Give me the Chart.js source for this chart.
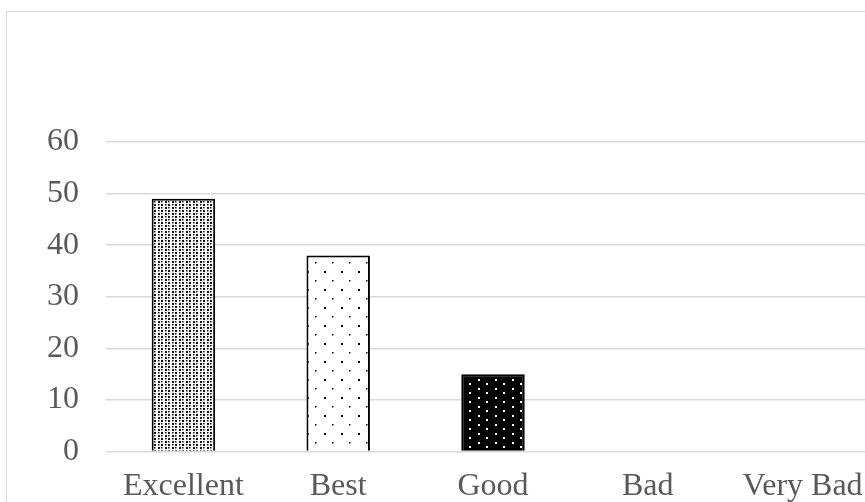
<!DOCTYPE html>
<html>
<head>
<meta charset="utf-8">
<script src="https://cdn.jsdelivr.net/npm/chart.js@4.4.1/dist/chart.umd.min.js"></script>
<style>
  html, body { margin: 0; padding: 0; background: #fff; overflow: hidden; }
  #frame {
    position: absolute; left: 6px; top: 11px;
    width: 1000px; height: 600px;
    border: 1px solid #d9d9d9;
  }
  #wrap { position: absolute; left: 0; top: 0; width: 890px; height: 514px; }
</style>
</head>
<body>
<div id="frame"></div>
<div id="wrap"><canvas id="ratingChart" width="890" height="514"></canvas></div>
<script>
const ratings = ['Excellent', 'Best', 'Good', 'Bad', 'Very Bad'];
const responses = [49, 38, 15, 0, 0];
const yTicks = [0, 10, 20, 30, 40, 50, 60];

// small tiles used as dotted fills for the bars
function dotPattern(w, h, bg, fg, dots) {
    const c = document.createElement('canvas');
    c.width = w;
    c.height = h;
    const g = c.getContext('2d');
    g.fillStyle = bg;
    g.fillRect(0, 0, w, h);
    g.fillStyle = fg;
    dots.forEach(d => g.fillRect(d[0], d[1], d[2], d[2]));
    return g.createPattern(c, 'repeat');
}

const ctx = document.getElementById('ratingChart').getContext('2d');
const fills = [
    dotPattern(7, 6, '#ffffff', '#111111', [[0, 0, 2], [4, 0, 1.5], [0, 3, 1.5], [4, 3, 2]]),
    dotPattern(17, 18, '#ffffff', '#000000', [[1, 1, 2], [9, 10, 1.5]]),
    dotPattern(17, 9, '#000000', '#ffffff', [[2, 1, 2], [10, 5, 2]]),
    '#ffffff',
    '#ffffff'
];

const chart = new Chart(ctx, {
    type: 'bar',
    data: {
        labels: ratings,
        datasets: [{
            data: responses,
            backgroundColor: fills,
            borderColor: '#000000',
            borderWidth: 2,
            barPercentage: 0.41,
            categoryPercentage: 1
        }]
    },
    options: {
        responsive: false,
        animation: false,
        layout: {
            padding: { top: 142, left: 20, right: 10, bottom: 0 }
        },
        plugins: {
            legend: { display: false },
            tooltip: { enabled: false }
        },
        scales: {
            x: {
                grid: { display: false },
                border: { display: false },
                ticks: {
                    color: '#595959',
                    padding: 8,
                    font: { family: 'Liberation Serif', size: 32 }
                }
            },
            y: {
                min: 0,
                max: 60,
                afterBuildTicks: axis => {
                    axis.ticks = yTicks.map(v => ({ value: v }));
                },
                grid: { color: '#d9d9d9', lineWidth: 1.5, drawTicks: false },
                border: { display: false },
                ticks: {
                    color: '#595959',
                    padding: 27,
                    font: { family: 'Liberation Serif', size: 32 }
                }
            }
        }
    }
});
</script>
</body>
</html>
